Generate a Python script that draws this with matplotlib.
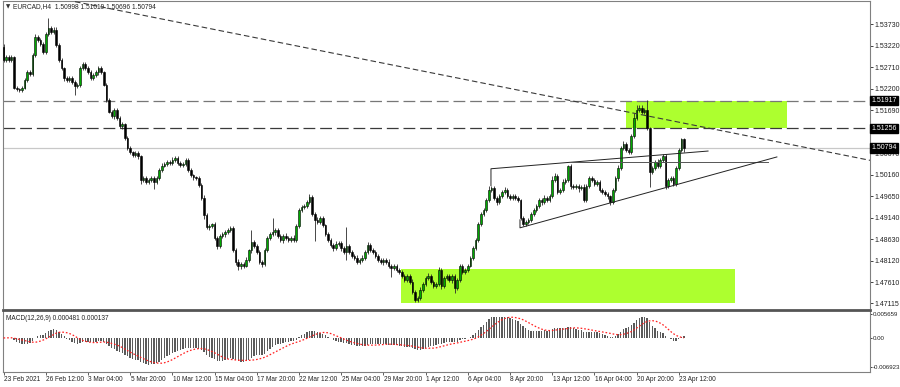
import matplotlib
matplotlib.use('Agg')
import matplotlib.pyplot as plt
from matplotlib.patches import Rectangle
from matplotlib.transforms import blended_transform_factory
import numpy as np
import pandas as pd

plt.rcParams['font.family'] = ['Liberation Sans', 'DejaVu Sans']
plt.rcParams['lines.scale_dashes'] = False

# --- EURCAD H4 candles (one value per 4h bar) ---
first_open = 1.5319
closes = [
    1.5288, 1.5295, 1.5288, 1.5295, 1.5221, 1.5219, 1.5217, 1.5221, 1.5240, 1.5259, 1.5255, 1.5300, 1.5342, 1.5335, 1.5326, 1.5307,
    1.5349, 1.5364, 1.5354, 1.5359, 1.5323, 1.5288, 1.5269, 1.5245, 1.5240, 1.5245, 1.5236, 1.5226, 1.5229, 1.5269, 1.5278, 1.5269,
    1.5259, 1.5245, 1.5252, 1.5259, 1.5269, 1.5259, 1.5229, 1.5193, 1.5165, 1.5155, 1.5169, 1.5150, 1.5131, 1.5136, 1.5103, 1.5079,
    1.5070, 1.5063, 1.5067, 1.5060, 1.5003, 1.5008, 1.4999, 1.5003, 1.5008, 1.4999, 1.5008, 1.5027, 1.5037, 1.5041, 1.5046, 1.5044,
    1.5051, 1.5056, 1.5044, 1.5039, 1.5041, 1.5051, 1.5027, 1.5015, 1.5010, 1.5008, 1.4992, 1.4961, 1.4920, 1.4892, 1.4894, 1.4899,
    1.4866, 1.4847, 1.4871, 1.4875, 1.4880, 1.4885, 1.4890, 1.4837, 1.4809, 1.4800, 1.4804, 1.4800, 1.4814, 1.4837, 1.4856, 1.4847,
    1.4833, 1.4809, 1.4804, 1.4837, 1.4866, 1.4875, 1.4880, 1.4885, 1.4871, 1.4861, 1.4871, 1.4866, 1.4861, 1.4866, 1.4861, 1.4894,
    1.4932, 1.4939, 1.4942, 1.4951, 1.4963, 1.4923, 1.4909, 1.4904, 1.4913, 1.4897, 1.4875, 1.4861, 1.4849, 1.4842, 1.4852, 1.4854,
    1.4842, 1.4833, 1.4847, 1.4833, 1.4823, 1.4819, 1.4809, 1.4814, 1.4819, 1.4833, 1.4849, 1.4837, 1.4833, 1.4823, 1.4814, 1.4809,
    1.4814, 1.4809, 1.4800, 1.4795, 1.4800, 1.4790, 1.4785, 1.4776, 1.4766, 1.4776, 1.4762, 1.4738, 1.4719, 1.4724, 1.4743, 1.4757,
    1.4771, 1.4776, 1.4762, 1.4752, 1.4757, 1.4790, 1.4752, 1.4771, 1.4776, 1.4766, 1.4776, 1.4747, 1.4766, 1.4800, 1.4785, 1.4790,
    1.4800, 1.4819, 1.4842, 1.4861, 1.4899, 1.4923, 1.4932, 1.4956, 1.4980, 1.4984, 1.4961, 1.4951, 1.4965, 1.4975, 1.4980, 1.4965,
    1.4961, 1.4965, 1.4961, 1.4956, 1.4913, 1.4899, 1.4904, 1.4909, 1.4923, 1.4932, 1.4942, 1.4956, 1.4951, 1.4961, 1.4956, 1.4965,
    1.5003, 1.5013, 1.4975, 1.4980, 1.4999, 1.5003, 1.5037, 1.4989, 1.4987, 1.4989, 1.4984, 1.4987, 1.4956, 1.4989, 1.5008, 1.5003,
    1.4994, 1.4999, 1.4980, 1.4975, 1.4970, 1.4965, 1.4951, 1.4980, 1.5008, 1.5032, 1.5079, 1.5089, 1.5075, 1.5070, 1.5108, 1.5150,
    1.5169, 1.5174, 1.5165, 1.5169, 1.5127, 1.5022, 1.5032, 1.5046, 1.5037, 1.5051, 1.5060, 1.4989, 1.5003, 1.5008, 1.4994, 1.5032,
    1.5075, 1.5100, 1.50794,
]
upper_wick_pips = [
    7, 4, 5, 4, 3, 4, 3, 5, 5, 4, 6, 5, 8, 5, 4, 4,
    6, 23, 5, 6, 6, 4, 4, 3, 5, 4, 4, 4, 5, 5, 6, 4,
    4, 5, 4, 5, 4, 5, 3, 4, 4, 5, 6, 4, 6, 4, 3, 4,
    4, 3, 5, 4, 3, 5, 4, 5, 6, 4, 5, 4, 6, 4, 5, 5,
    6, 4, 5, 5, 6, 4, 4, 4, 3, 3, 5, 4, 6, 5, 4, 3,
    4, 5, 5, 6, 4, 5, 4, 4, 5, 6, 4, 5, 6, 4, 30, 5,
    4, 5, 4, 6, 5, 5, 33, 4, 5, 4, 5, 6, 4, 5, 6, 4,
    5, 6, 4, 5, 7, 4, 5, 6, 4, 5, 3, 4, 4, 5, 6, 4,
    5, 6, 45, 5, 4, 5, 6, 4, 6, 5, 8, 4, 5, 4, 5, 4,
    5, 4, 6, 5, 4, 5, 4, 6, 4, 5, 4, 6, 5, 4, 6, 4,
    5, 6, 4, 5, 4, 8, 4, 6, 4, 5, 4, 5, 6, 4, 5, 4,
    5, 4, 5, 6, 4, 5, 6, 4, 8, 6, 4, 5, 4, 5, 6, 4,
    5, 4, 5, 4, 3, 5, 4, 4, 5, 4, 5, 4, 5, 6, 4, 5,
    10, 6, 4, 5, 6, 5, 3, 4, 5, 4, 5, 4, 6, 5, 5, 4,
    5, 4, 5, 4, 5, 4, 3, 5, 4, 6, 5, 6, 5, 4, 5, 12,
    12, 8, 6, 5, 24, 3, 5, 4, 6, 5, 6, 4, 5, 6, 4, 5,
    5, 4, 2,
]
lower_wick_pips = [
    5, 4, 4, 6, 3, 5, 4, 4, 3, 5, 4, 5, 4, 5, 4, 6,
    5, 4, 5, 5, 4, 5, 5, 6, 5, 4, 6, 21, 4, 5, 5, 6,
    5, 4, 5, 4, 6, 5, 4, 4, 4, 5, 6, 5, 4, 6, 5, 4,
    5, 4, 5, 6, 8, 5, 6, 4, 5, 17, 4, 5, 4, 4, 5, 6,
    4, 5, 6, 4, 5, 4, 5, 4, 6, 4, 5, 6, 10, 5, 6, 4,
    5, 8, 4, 5, 6, 4, 5, 4, 6, 10, 8, 5, 4, 5, 6, 4,
    5, 4, 6, 5, 4, 5, 4, 6, 5, 4, 6, 5, 4, 5, 5, 4,
    4, 5, 5, 4, 5, 6, 50, 5, 4, 6, 5, 4, 5, 6, 4, 5,
    6, 5, 19, 4, 5, 6, 5, 4, 6, 5, 4, 5, 6, 5, 4, 5,
    6, 4, 5, 21, 5, 4, 5, 6, 5, 4, 6, 4, 5, 4, 6, 5,
    4, 5, 6, 4, 5, 4, 6, 5, 4, 5, 6, 12, 5, 4, 5, 4,
    5, 4, 5, 4, 5, 4, 5, 4, 5, 4, 5, 6, 4, 5, 4, 5,
    4, 5, 6, 4, 5, 5, 4, 6, 5, 4, 5, 4, 6, 5, 4, 5,
    4, 5, 5, 4, 6, 4, 5, 6, 4, 5, 8, 5, 4, 5, 4, 5,
    4, 5, 6, 4, 5, 6, 8, 5, 4, 6, 5, 4, 5, 6, 4, 5,
    5, 4, 6, 5, 6, 35, 5, 4, 6, 5, 4, 8, 5, 4, 6, 5,
    4, 5, 10,
]

date_labels = ['23 Feb 2021', '26 Feb 12:00', '3 Mar 04:00', '5 Mar 20:00', '10 Mar 12:00',
               '15 Mar 04:00', '17 Mar 20:00', '22 Mar 12:00', '25 Mar 04:00', '29 Mar 20:00',
               '1 Apr 12:00', '6 Apr 04:00', '8 Apr 20:00', '13 Apr 12:00', '16 Apr 04:00',
               '20 Apr 20:00', '23 Apr 12:00']
bars_per_label = 16

price_ticks = [1.53730, 1.53220, 1.52710, 1.52200, 1.51690, 1.51180, 1.50670,
               1.50160, 1.49650, 1.49140, 1.48630, 1.48120, 1.47610, 1.47115]
levels = [1.51917, 1.51256]
last_price = 1.50794
macd_ticks = [0.005659, 0.0, -0.006923]
macd_tick_labels = ['0.005659', '0.00', '-0.006923']

title = 'EURCAD,H4  1.50998 1.51019 1.50696 1.50794'
macd_title = 'MACD(12,26,9) 0.000481 0.000137'

# chart objects, in (bar index, price)
upper_zone = (236.0, 297.0, 1.51256, 1.51917)
lower_zone = (150.7, 277.3, 1.47120, 1.47925)
trend_line = [(27.1, 1.5426), (328.5, 1.5050)]
tri_upper = [(184.8, 1.4990), (184.8, 1.5030), (267.1, 1.5072)]
tri_flat = [(214.7, 1.5046), (289.8, 1.5046)]
tri_lower = [(195.8, 1.4909), (195.8, 1.4890), (293.2, 1.5058)]


def eurcad_chart():
    c = np.array(closes)
    o = np.concatenate([[first_open], c[:-1]])
    hi = np.maximum(o, c) + np.array(upper_wick_pips) * 1e-4
    lo = np.minimum(o, c) - np.array(lower_wick_pips) * 1e-4
    idx = np.arange(len(c))
    up = c >= o

    fig = plt.figure(figsize=(9, 3.87), dpi=100)
    ax = fig.add_axes([3 / 900, 1 - 308 / 387, 867 / 900, 307 / 387])
    axm = fig.add_axes([3 / 900, 1 - 372 / 387, 867 / 900, 62 / 387])

    xlim = (-0.2, 328.5)
    ax.set_xlim(*xlim)
    ax.set_ylim(1.4700, 1.54276)
    axm.set_xlim(*xlim)
    axm.set_ylim(-0.00807, 0.00663)

    # zones
    for x0, x1, y0, y1 in (upper_zone, lower_zone):
        ax.add_patch(Rectangle((x0, y0), x1 - x0, y1 - y0, facecolor='#adff2f',
                               edgecolor='none', zorder=1))

    # levels
    ax.axhline(last_price, color='#c8c8c8', lw=0.9, zorder=2)
    ax.axhline(levels[0], color='#777777', lw=0.9, dashes=(8.5, 3.5), zorder=2)
    ax.axhline(levels[1], color='#3a3a3a', lw=0.9, dashes=(8.5, 3.5), zorder=2)

    # candles
    ax.vlines(idx, lo, hi, color='#2a2a2a', lw=0.6, zorder=3)
    h = np.maximum(np.abs(c - o), 0.00004)
    ax.bar(idx[up], h[up], bottom=o[up], width=0.62, color='#00a800',
           edgecolor='black', lw=0.4, zorder=4)
    ax.bar(idx[~up], h[~up], bottom=c[~up], width=0.62, color='black',
           edgecolor='black', lw=0.4, zorder=4)

    # drawn lines
    tx, ty = zip(*trend_line)
    ax.plot(tx, ty, color='#3a3a3a', lw=0.8, dashes=(4, 2.2), zorder=5)
    for pts, col in ((tri_upper, '#222222'), (tri_flat, '#555555'), (tri_lower, '#222222')):
        px, py = zip(*pts)
        ax.plot(px, py, color=col, lw=0.7, zorder=5)

    # price axis
    ax.yaxis.tick_right()
    ax.set_yticks(price_ticks, labels=[f'{p:.5f}' for p in price_ticks])
    ax.tick_params(axis='y', length=2, width=0.6, pad=1.2, labelsize=5.0,
                   colors='#222222')
    ax.set_xticks([])
    tr = blended_transform_factory(ax.transAxes, ax.transData)
    for p in levels + [last_price]:
        ax.text(1.0015, p, f'{p:.5f}', transform=tr, ha='left', va='center',
                fontsize=5.0, color='white', zorder=10, clip_on=False,
                bbox=dict(boxstyle='square,pad=0.2', facecolor='black',
                          edgecolor='black'))

    for sp in ax.spines.values():
        sp.set_color('#808080')
        sp.set_linewidth(0.8)
    ax.spines['bottom'].set_visible(False)

    ax.text(0.003, 0.982, '\u25bc', transform=ax.transAxes, fontsize=4,
            va='center', ha='left', color='#333333', family=['DejaVu Sans'])
    ax.text(0.011, 0.982, title, transform=ax.transAxes, fontsize=4.8,
            va='center', ha='left', color='#222222')

    # MACD
    s = pd.Series(closes)
    macd = s.ewm(span=12, adjust=False).mean() - s.ewm(span=26, adjust=False).mean()
    signal = macd.rolling(9, min_periods=1).mean()
    axm.bar(idx, macd, width=0.5, color='#5a5a5a', zorder=2)
    axm.plot(idx, signal, color='#ff2020', lw=0.9, ls=(0, (1.2, 1.4)), zorder=3)

    axm.yaxis.tick_right()
    axm.set_yticks(macd_ticks, labels=macd_tick_labels)
    axm.tick_params(axis='y', length=1.5, width=0.6, pad=0.8, labelsize=4.4,
                    colors='#222222')
    label_pos = np.arange(len(date_labels)) * bars_per_label
    axm.set_xticks(label_pos, labels=[''] * len(date_labels))
    axm.tick_params(axis='x', length=2, width=0.6, colors='#444444')
    trm = blended_transform_factory(axm.transData, axm.transAxes)
    for xp, lab in zip(label_pos, date_labels):
        axm.text(xp + 0.2, -0.06, lab, transform=trm, ha='left', va='top',
                 fontsize=4.7, color='#222222', clip_on=False)
    for sp in axm.spines.values():
        sp.set_color('#808080')
        sp.set_linewidth(0.8)
    axm.spines['top'].set_color('#555555')
    axm.spines['top'].set_linewidth(2.0)
    axm.text(0.003, 0.86, macd_title, transform=axm.transAxes, fontsize=4.7,
             va='center', ha='left', color='#222222')

    fig.savefig('out.png', dpi=100)


if __name__ == '__main__':
    eurcad_chart()
